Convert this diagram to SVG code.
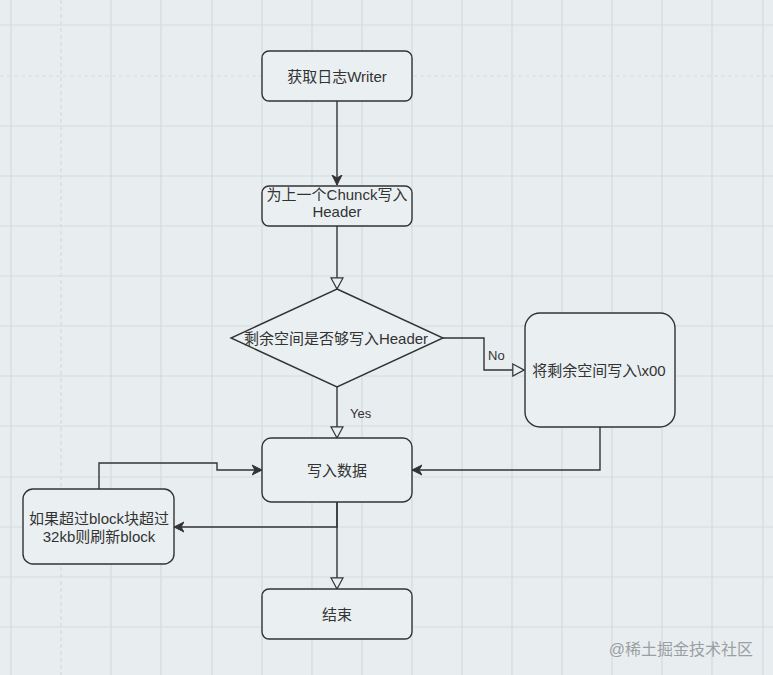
<svg xmlns="http://www.w3.org/2000/svg" width="773" height="675" viewBox="0 0 773 675">
<style>
.bg{fill:#e8eef0}
.grid line{stroke:#d3dbde;stroke-width:1.2}
.pb{stroke:#b5bcbf;stroke-width:1;stroke-dasharray:4 3}
.node{fill:#eaf0f2;stroke:#333;stroke-width:1.4}
.t{font-family:"Liberation Sans","Noto Sans CJK SC",sans-serif;font-size:15px;fill:#333;text-anchor:middle;dominant-baseline:central}
.lbl{font-family:"Liberation Sans","Noto Sans CJK SC",sans-serif;font-size:13px;fill:#333}
.e{fill:none;stroke:#333;stroke-width:1.4}
.wm{font-family:"Liberation Sans","Noto Sans CJK SC",sans-serif;font-size:16px;fill:#9a9fa3;text-anchor:end}
</style>
<defs>
<marker id="classic" markerUnits="userSpaceOnUse" markerWidth="12" markerHeight="12" refX="10" refY="5" orient="auto" viewBox="0 0 12 10">
<path d="M0,0 L10,5 L0,10 L3,5 z" fill="#333" stroke="#333" stroke-width="1"/>
</marker>
<marker id="block" markerUnits="userSpaceOnUse" markerWidth="14" markerHeight="14" refX="12" refY="6.5" orient="auto" viewBox="-1 -1 14 15">
<path d="M0,0 L12,6.5 L0,13 z" fill="#eaf0f2" stroke="#333" stroke-width="1.3"/>
</marker>
</defs>
<rect class="bg" x="0" y="0" width="773" height="675"/>
<g class="grid">
<line x1="11" y1="0" x2="11" y2="675"/>
<line x1="111" y1="0" x2="111" y2="675"/>
<line x1="161" y1="0" x2="161" y2="675"/>
<line x1="212" y1="0" x2="212" y2="675"/>
<line x1="262" y1="0" x2="262" y2="675"/>
<line x1="312" y1="0" x2="312" y2="675"/>
<line x1="362" y1="0" x2="362" y2="675"/>
<line x1="412" y1="0" x2="412" y2="675"/>
<line x1="462" y1="0" x2="462" y2="675"/>
<line x1="512" y1="0" x2="512" y2="675"/>
<line x1="562" y1="0" x2="562" y2="675"/>
<line x1="612" y1="0" x2="612" y2="675"/>
<line x1="662" y1="0" x2="662" y2="675"/>
<line x1="712" y1="0" x2="712" y2="675"/>
<line x1="763" y1="0" x2="763" y2="675"/>
<line x1="0" y1="25" x2="773" y2="25"/>
<line x1="0" y1="126" x2="773" y2="126"/>
<line x1="0" y1="176" x2="773" y2="176"/>
<line x1="0" y1="226" x2="773" y2="226"/>
<line x1="0" y1="276" x2="773" y2="276"/>
<line x1="0" y1="326" x2="773" y2="326"/>
<line x1="0" y1="376" x2="773" y2="376"/>
<line x1="0" y1="426" x2="773" y2="426"/>
<line x1="0" y1="477" x2="773" y2="477"/>
<line x1="0" y1="527" x2="773" y2="527"/>
<line x1="0" y1="577" x2="773" y2="577"/>
<line x1="0" y1="627" x2="773" y2="627"/>
<line class="pb" x1="61" y1="0" x2="61" y2="675"/>
<line class="pb" x1="0" y1="76" x2="773" y2="76"/>
</g>
<g id="connectors">
<path class="e" d="M337,101 L337,185" marker-end="url(#classic)"/>
<path class="e" d="M337,226 L337,289" marker-end="url(#block)"/>
<path class="e" d="M443,338 L484,338 L484,370 L524,370" marker-end="url(#block)"/>
<path class="e" d="M337,387 L337,438" marker-end="url(#block)"/>
<path class="e" d="M600,427 L600,470 L412,470" marker-end="url(#classic)"/>
<path class="e" d="M337,502 L337,527 L174,527" marker-end="url(#classic)"/>
<path class="e" d="M337,502 L337,589" marker-end="url(#block)"/>
<path class="e" d="M99,489 L99,463 L217,463 L217,470 L262,470" marker-end="url(#classic)"/>
<text class="lbl" x="488" y="360">No</text>
<text class="lbl" x="350" y="418">Yes</text>
</g>
<g id="n1"><rect class="node" x="262" y="51" width="150" height="50" rx="7"/><text class="t" x="337" y="76">获取日志Writer</text></g>
<g id="n2"><rect class="node" x="262" y="186" width="150" height="40" rx="7"/><text class="t" x="337" y="194">为上一个Chunck写入</text><text class="t" x="337" y="211">Header</text></g>
<g id="n3"><path class="node" d="M337,289 L443,338 L337,387 L231,338 z"/><text class="t" x="336" y="338">剩余空间是否够写入Header</text></g>
<g id="n4"><rect class="node" x="525" y="313" width="150" height="114" rx="15"/><text class="t" x="599" y="370">将剩余空间写入\x00</text></g>
<g id="n5"><rect class="node" x="262" y="438" width="150" height="64" rx="9"/><text class="t" x="337" y="470">写入数据</text></g>
<g id="n6"><rect class="node" x="23" y="489" width="151" height="75" rx="10"/><text class="t" x="99" y="518">如果超过block块超过</text><text class="t" x="99" y="536">32kb则刷新block</text></g>
<g id="n7"><rect class="node" x="262" y="589" width="150" height="50" rx="7"/><text class="t" x="337" y="614">结束</text></g>
<text class="wm" x="753" y="655">@稀土掘金技术社区</text>
</svg>
